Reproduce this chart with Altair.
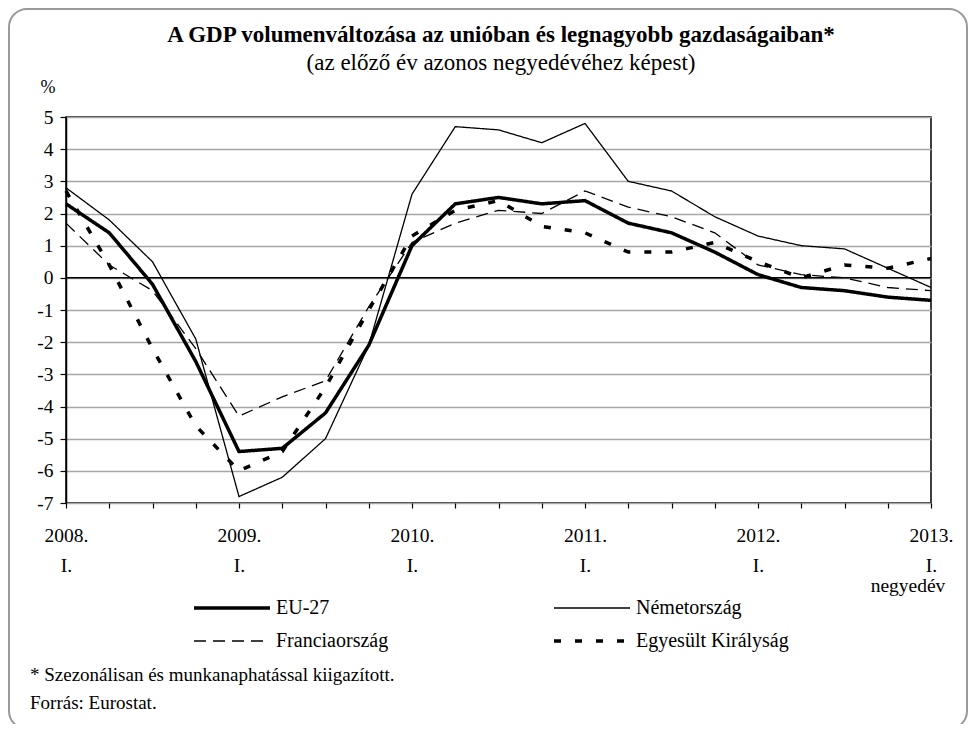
import altair as alt
import pandas as pd

# ---- data ----
quarters = [
    "2008. I.", "2008. II.", "2008. III.", "2008. IV.",
    "2009. I.", "2009. II.", "2009. III.", "2009. IV.",
    "2010. I.", "2010. II.", "2010. III.", "2010. IV.",
    "2011. I.", "2011. II.", "2011. III.", "2011. IV.",
    "2012. I.", "2012. II.", "2012. III.", "2012. IV.",
    "2013. I.",
]
series_names = ["EU-27", "Németország", "Franciaország", "Egyesült Királyság"]
eu27 = [2.3, 1.4, -0.2, -2.6, -5.4, -5.3, -4.2, -2.1, 1.0, 2.3, 2.5, 2.3, 2.4, 1.7, 1.4, 0.8, 0.1, -0.3, -0.4, -0.6, -0.7]
germany = [2.8, 1.8, 0.5, -1.9, -6.8, -6.2, -5.0, -2.1, 2.6, 4.7, 4.6, 4.2, 4.8, 3.0, 2.7, 1.9, 1.3, 1.0, 0.9, 0.3, -0.3]
france = [1.7, 0.4, -0.4, -2.2, -4.3, -3.7, -3.2, -0.9, 1.1, 1.7, 2.1, 2.0, 2.7, 2.2, 1.9, 1.4, 0.4, 0.1, 0.0, -0.3, -0.4]
uk = [2.7, 0.4, -2.2, -4.6, -6.0, -5.4, -3.4, -1.0, 1.3, 2.1, 2.4, 1.6, 1.4, 0.8, 0.8, 1.1, 0.5, 0.0, 0.4, 0.3, 0.6]

title_text = "A GDP volumenváltozása az unióban és legnagyobb gazdaságaiban*"
subtitle_text = "(az előző év azonos negyedévéhez képest)"
unit_text = "%"
quarter_word = "negyedév"
footnotes = ["* Szezonálisan és munkanaphatással kiigazított.", "Forrás: Eurostat."]

rows = []
for name, vals in zip(series_names, [eu27, germany, france, uk]):
    for q, v in zip(quarters, vals):
        rows.append({"negyedev": q, "orszag": name, "ertek": v})
df = pd.DataFrame(rows)

FONT = "Liberation Serif"
W, H = 865, 386

x_enc = alt.X(
    "negyedev:O",
    sort=quarters,
    scale=alt.Scale(type="point", domain=quarters, padding=0),
    axis=alt.Axis(
        title=None, labelAngle=0, grid=False, domain=False,
        ticks=True, tickSize=5, tickColor="black", tickWidth=1.2,
        labelExpr="length(datum.label) == 8 ? split(datum.label, ' ') : ''",
        labelFont=FONT, labelFontSize=19.5, labelColor="black",
        labelLineHeight=30, labelBaseline="alphabetic", labelPadding=33,
        labelOverlap=False, labelBound=False, labelFlush=False,
    ),
)
y_axis = alt.Axis(
    title=None, values=list(range(-7, 6)), grid=True,
    gridColor="#a6a6a6", gridWidth=1.5,
    domain=True, domainColor="black", domainWidth=1.5,
    tickColor="black", tickSize=6, tickWidth=1.2,
    labelExpr="'' + datum.value", labelOverlap=False,
    labelFont=FONT, labelFontSize=19.5, labelColor="black", labelPadding=7,
)
y_scale = alt.Scale(domain=[-7, 5], nice=False, zero=False)
y_enc = alt.Y("ertek:Q", scale=y_scale, axis=y_axis)

legend = alt.Legend(
    title=None, orient="none", legendX=126, legendY=481, columns=2,
    direction="horizontal", clipHeight=20,
    symbolType="stroke", symbolSize=5776, symbolStrokeColor="black",
    labelFont=FONT, labelFontSize=20, labelColor="black", labelOffset=4,
    columnPadding=163, rowPadding=13, labelLimit=400,
)

lines = alt.Chart(df).mark_line(color="black").encode(
    x=x_enc,
    y=y_enc,
    detail="orszag:N",
    strokeDash=alt.StrokeDash(
        "orszag:N",
        scale=alt.Scale(type="ordinal", domain=series_names, range=[[1, 0], [1, 0], [12, 7], [7, 14]]),
        legend=legend,
    ),
    strokeWidth=alt.StrokeWidth(
        "orszag:N",
        scale=alt.Scale(type="ordinal", domain=series_names, range=[3.5, 1.3, 1.3, 3.5]),
        legend=legend,
    ),
)

zero = alt.Chart(pd.DataFrame({"ertek": [0]})).mark_rule(color="black", strokeWidth=1.5).encode(
    y=alt.Y("ertek:Q", scale=y_scale, axis=y_axis)
)

one = pd.DataFrame({"t": [""]})
frame = alt.Chart(one).mark_rect(
    fill="transparent", stroke="#9a9a9a", strokeWidth=2, cornerRadius=18
).encode(x=alt.value(-57), x2=alt.value(901), y=alt.value(-108), y2=alt.value(612))

title = alt.Chart(pd.DataFrame({"t": [title_text]})).mark_text(
    font=FONT, fontSize=23, fontWeight="bold", color="black", align="center", baseline="alphabetic"
).encode(text="t:N", x=alt.value(435), y=alt.value(-75))

subtitle = alt.Chart(pd.DataFrame({"t": [subtitle_text]})).mark_text(
    font=FONT, fontSize=23, color="black", align="center", baseline="alphabetic"
).encode(text="t:N", x=alt.value(435), y=alt.value(-47))

unit = alt.Chart(pd.DataFrame({"t": [unit_text]})).mark_text(
    font=FONT, fontSize=18, color="black", align="center", baseline="alphabetic"
).encode(text="t:N", x=alt.value(-18), y=alt.value(-24))

qword = alt.Chart(pd.DataFrame({"t": [quarter_word]})).mark_text(
    font=FONT, fontSize=19.5, color="black", align="center", baseline="alphabetic"
).encode(text="t:N", x=alt.value(842), y=alt.value(475))

foot = alt.Chart(pd.DataFrame({"t": footnotes, "yy": [564, 592]})).mark_text(
    font=FONT, fontSize=19, color="black", align="left", baseline="alphabetic"
).encode(text="t:N", x=alt.value(-36), y=alt.Y("yy:Q", scale=None))

chart = alt.layer(lines, zero, frame, title, subtitle, unit, qword, foot).properties(
    width=W, height=H,
    autosize=alt.AutoSizeParams(type="none"),
    padding={"left": 58, "top": 109, "right": 37, "bottom": 221},
    background="white",
).configure_view(stroke="black", strokeWidth=1.5)

chart.save("out.html", embed_options={"renderer": "svg", "actions": False})
